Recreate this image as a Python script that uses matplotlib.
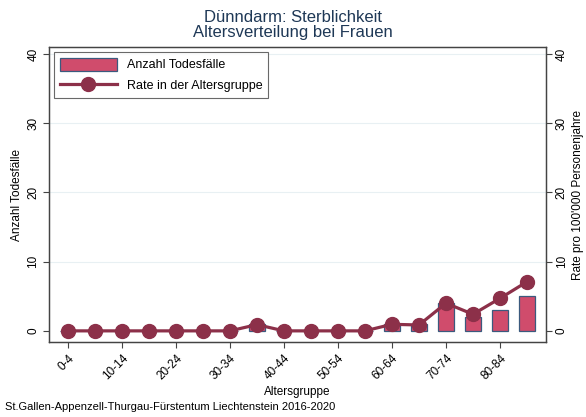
import matplotlib
matplotlib.use("Agg")
import matplotlib.pyplot as plt
from matplotlib.lines import Line2D
from matplotlib.patches import Patch

plt.rcParams['font.family'] = ['Liberation Sans', 'DejaVu Sans']

age_groups = ["0-4", "5-9", "10-14", "15-19", "20-24", "25-29", "30-34", "35-39",
              "40-44", "45-49", "50-54", "55-59", "60-64", "65-69", "70-74", "75-79",
              "80-84", "85+"]
deaths = [0, 0, 0, 0, 0, 0, 0, 1, 0, 0, 0, 0, 1, 1, 4, 2, 3, 5]
rates = [0, 0, 0, 0, 0, 0, 0, 0.9, 0, 0, 0, 0, 0.95, 0.85, 4.0, 2.4, 4.7, 7.1]
yticks = [0, 10, 20, 30, 40]

bar_color = "#d04c6c"
bar_edge = "#3b5a7e"
line_color = "#8c3049"
title_color = "#1e3856"

fig = plt.figure(figsize=(5.86, 4.17), dpi=100)
ax = fig.add_axes([0.0836, 0.18, 0.848, 0.707])
x = list(range(len(age_groups)))

ax.set_axisbelow(True)
for t in yticks[1:]:
    ax.axhline(t, color="#e8f0f3", lw=0.8, zorder=0)

ax.bar(x, deaths, width=0.6, color=bar_color, edgecolor=bar_edge, linewidth=0.9, zorder=2)

ax2 = ax.twinx()
ax2.plot(x, rates, color=line_color, lw=2.3, marker="o", markersize=10, zorder=3)

for a in (ax, ax2):
    a.set_ylim(-1.6, 41)
    a.set_xlim(-0.7, 17.7)
    a.set_yticks(yticks)
    a.tick_params(axis='y', labelsize=8.5, rotation=90, length=4, pad=3, color="#444444")
    for s in a.spines.values():
        s.set_color("#444444")
        s.set_linewidth(0.9)

for lbl in ax.get_yticklabels():
    lbl.set_va("center")
for lbl in ax2.get_yticklabels():
    lbl.set_va("center")

ax.set_xticks(x[::2])
ax.set_xticklabels(age_groups[::2], rotation=45, ha="right", rotation_mode="anchor", fontsize=8.5)
ax.tick_params(axis='x', length=4, color="#444444")

ax.set_ylabel("Anzahl Todesfälle", fontsize=8.5, labelpad=3)
ax2.set_ylabel("Rate pro 100'000 Personenjahre", fontsize=8.5, labelpad=3)
ax.set_xlabel("Altersgruppe", fontsize=8.5, labelpad=3)

ax2.set_zorder(ax.get_zorder() + 1)
ax2.patch.set_visible(False)

fig.text(0.5, 0.975, "Dünndarm: Sterblichkeit\nAltersverteilung bei Frauen", ha="center", va="top",
         fontsize=12, color=title_color, linespacing=1.0)

handles = [Patch(facecolor=bar_color, edgecolor=bar_edge, linewidth=0.9),
           Line2D([0], [0], color=line_color, lw=2.3, marker="o", markersize=10)]
leg = ax2.legend(handles, ["Anzahl Todesfälle", "Rate in der Altersgruppe"], loc="upper left",
                 bbox_to_anchor=(0.0, 1.0), borderaxespad=0.4, fontsize=9, frameon=True,
                 fancybox=False, handlelength=4.6, handleheight=1.2, borderpad=0.45,
                 labelspacing=0.6, handletextpad=0.8, edgecolor="#444444")
leg.get_frame().set_linewidth(0.8)

fig.text(0.008, 0.012, "St.Gallen-Appenzell-Thurgau-Fürstentum Liechtenstein 2016-2020", fontsize=8, ha="left", va="bottom")

fig.savefig("out.png", dpi=100, facecolor="white")
